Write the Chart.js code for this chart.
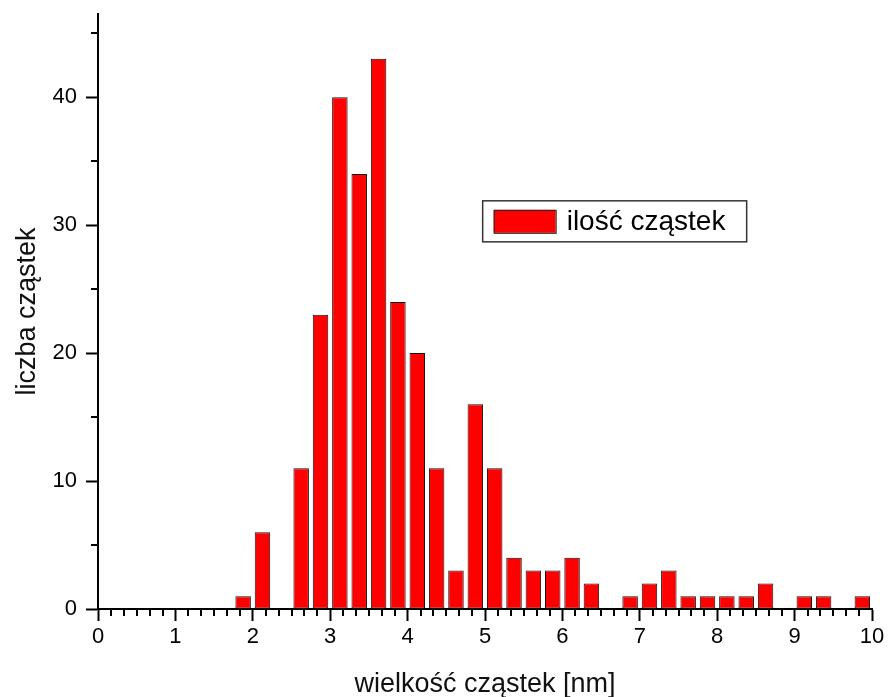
<!DOCTYPE html>
<html>
<head>
<meta charset="utf-8">
<title>wielkość cząstek</title>
<script src="https://cdn.jsdelivr.net/npm/chart.js@4/dist/chart.umd.min.js"></script>
<style>
  html, body { margin: 0; padding: 0; background: #fff; }
  #wrap { width: 888px; height: 697px; }
</style>
</head>
<body>
<div id="wrap"><canvas id="histChart" width="888" height="697"></canvas></div>
<script>
// bin centres [nm] (bins 0.25 nm wide) and particle counts
const binCenters = [1.875, 2.125, 2.625, 2.875, 3.125, 3.375, 3.625, 3.875, 4.125, 4.375,
                    4.625, 4.875, 5.125, 5.375, 5.625, 5.875, 6.125, 6.375, 6.875, 7.125,
                    7.375, 7.625, 7.875, 8.125, 8.375, 8.625, 9.125, 9.375, 9.875];
const counts = [1, 6, 11, 23, 40, 34, 43, 24, 20, 11,
                3, 16, 11, 4, 3, 3, 4, 2, 1, 2,
                3, 1, 1, 1, 1, 2, 1, 1, 1];
const xTicks = [0, 1, 2, 3, 4, 5, 6, 7, 8, 9, 10];
const yTicks = [0, 10, 20, 30, 40];

const seriesLabel = 'ilość cząstek';
const xTitle = 'wielkość cząstek [nm]';
const yTitle = 'liczba cząstek';

const FONT = "'Liberation Sans', Arial, sans-serif";

// minor ticks + legend box drawn after the chart
const extrasPlugin = {
    id: 'extras',
    afterDraw(chart) {
        const ctx = chart.ctx;
        const xs = chart.scales.x;
        const ys = chart.scales.y;
        const area = chart.chartArea;

        ctx.save();
        ctx.strokeStyle = '#000';
        ctx.lineWidth = 2;
        ctx.beginPath();
        // x minor ticks, 5 between the integers
        for (let i = 0; i < xTicks.length - 1; i++) {
            for (let j = 1; j < 6; j++) {
                const px = Math.round(xs.getPixelForValue(xTicks[i] + j / 6));
                ctx.moveTo(px, area.bottom);
                ctx.lineTo(px, area.bottom + 7);
            }
        }
        // y minor ticks, halfway between the labelled ones (plus one above 40)
        for (let i = 0; i < yTicks.length; i++) {
            const py = Math.round(ys.getPixelForValue(yTicks[i] + 5));
            ctx.moveTo(area.left, py);
            ctx.lineTo(area.left - 7, py);
        }
        ctx.stroke();

        // legend
        const ds = chart.data.datasets[0];
        const bx = area.left + (area.right - area.left) * 0.497;
        const by = area.top + (area.bottom - area.top) * 0.314;
        const bw = 264, bh = 41;
        ctx.fillStyle = '#fff';
        ctx.fillRect(bx, by, bw, bh);
        ctx.lineWidth = 1.5;
        ctx.strokeStyle = '#333';
        ctx.strokeRect(bx, by, bw, bh);
        ctx.fillStyle = ds.backgroundColor;
        ctx.fillRect(bx + 11, by + 9, 62, 23);
        ctx.lineWidth = 1;
        ctx.strokeStyle = '#222';
        ctx.strokeRect(bx + 11.5, by + 9.5, 62, 23);
        ctx.fillStyle = '#000';
        ctx.font = '28px ' + FONT;
        ctx.textBaseline = 'middle';
        ctx.textAlign = 'left';
        ctx.fillText(ds.label, bx + 84, by + 21);
        ctx.restore();
    }
};

const ctx = document.getElementById('histChart').getContext('2d');
new Chart(ctx, {
    type: 'bar',
    data: {
        datasets: [{
            label: seriesLabel,
            data: binCenters.map((c, i) => ({ x: c, y: counts[i] })),
            backgroundColor: '#ff0000',
            borderColor: '#111',
            borderWidth: 1,
            borderSkipped: false,
            barPercentage: 0.8,
            categoryPercentage: 1.0
        }]
    },
    options: {
        responsive: false,
        animation: false,
        devicePixelRatio: 1,
        layout: { padding: { top: 14, right: 16, left: 0, bottom: 0 } },
        plugins: {
            legend: { display: false },
            tooltip: { enabled: false }
        },
        scales: {
            x: {
                type: 'linear',
                min: 0,
                max: 10,
                offset: false,
                afterFit: function(scale) {
                    scale.height = 88;
                    scale.paddingLeft = 0;
                    scale.paddingRight = 0;
                },
                afterBuildTicks: function(scale) {
                    scale.ticks = xTicks.map(v => ({ value: v }));
                },
                grid: {
                    display: true,
                    drawOnChartArea: false,
                    offset: false,
                    tickLength: 12,
                    tickWidth: 2,
                    tickColor: '#000'
                },
                border: { display: true, color: '#000', width: 2 },
                ticks: {
                    color: '#000',
                    padding: 3,
                    maxRotation: 0,
                    font: { family: FONT, size: 22 }
                },
                title: {
                    display: true,
                    text: xTitle,
                    color: '#111',
                    padding: 0,
                    font: { family: FONT, size: 27, lineHeight: 0.9 }
                }
            },
            y: {
                type: 'linear',
                min: 0,
                max: 46.5,
                afterFit: function(scale) {
                    scale.width = 98;
                    scale.paddingTop = 0;
                    scale.paddingBottom = 0;
                },
                afterBuildTicks: function(scale) {
                    scale.ticks = yTicks.map(v => ({ value: v }));
                },
                grid: {
                    display: true,
                    drawOnChartArea: false,
                    tickLength: 12,
                    tickWidth: 2,
                    tickColor: '#000'
                },
                border: { display: true, color: '#000', width: 2 },
                ticks: {
                    color: '#000',
                    padding: 9,
                    font: { family: FONT, size: 22 }
                },
                title: {
                    display: true,
                    text: yTitle,
                    color: '#111',
                    padding: { top: 15, bottom: 0 },
                    font: { family: FONT, size: 27, lineHeight: 0.9 }
                }
            }
        }
    },
    plugins: [extrasPlugin]
});
</script>
</body>
</html>
